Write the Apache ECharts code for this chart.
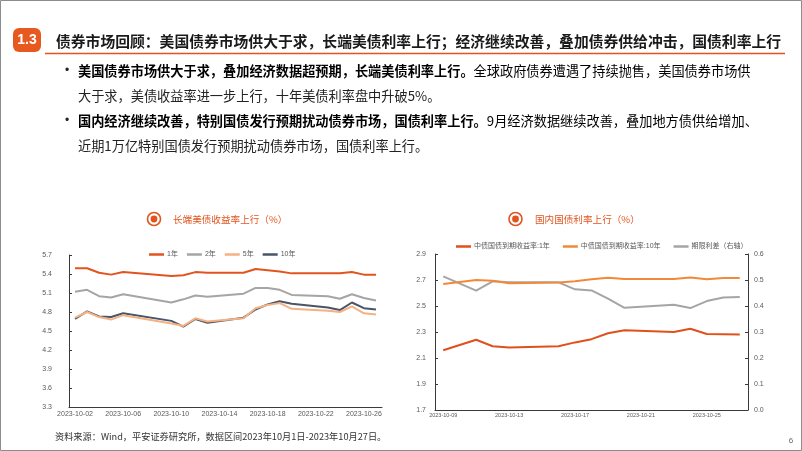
<!DOCTYPE html>
<html><head><meta charset="utf-8">
<script src="https://cdn.jsdelivr.net/npm/echarts@6/dist/echarts.min.js"></script>
<style>html,body{margin:0;padding:0;background:#fff;}#c{width:802px;height:451px;}</style>
</head><body><div id="c"></div>
<script>
// ---------- data: US treasury yields (left chart) ----------
const usDates = ['2023-10-02','2023-10-03','2023-10-04','2023-10-05','2023-10-06','2023-10-07','2023-10-08','2023-10-09','2023-10-10','2023-10-11','2023-10-12','2023-10-13','2023-10-14','2023-10-15','2023-10-16','2023-10-17','2023-10-18','2023-10-19','2023-10-20','2023-10-21','2023-10-22','2023-10-23','2023-10-24','2023-10-25','2023-10-26','2023-10-27'];
const usNames = ['1年','2年','5年','10年'];
const us1y  = [5.49,5.49,5.42,5.39,5.43,null,null,null,5.37,5.38,5.43,5.42,null,null,5.42,5.48,5.46,5.44,5.41,null,null,5.41,5.41,5.43,5.39,5.39];
const us2y  = [5.12,5.15,5.05,5.03,5.08,null,null,null,4.95,5.00,5.06,5.04,null,null,5.09,5.18,5.18,5.15,5.07,null,null,5.05,5.01,5.08,5.02,4.98];
const us5y  = [4.71,4.80,4.72,4.68,4.75,null,null,null,4.62,4.58,4.70,4.65,null,null,4.70,4.86,4.91,4.94,4.85,null,null,4.82,4.80,4.89,4.78,4.76];
const us10y = [4.69,4.81,4.73,4.72,4.78,null,null,null,4.66,4.57,4.69,4.63,null,null,4.71,4.84,4.92,4.97,4.93,null,null,4.87,4.83,4.95,4.86,4.84];
const usYMin = 3.3, usYMax = 5.7, usYStep = 0.3;

// ---------- data: China government bond yields (right chart) ----------
const cnDates = ['2023-10-09','2023-10-10','2023-10-11','2023-10-12','2023-10-13','2023-10-14','2023-10-15','2023-10-16','2023-10-17','2023-10-18','2023-10-19','2023-10-20','2023-10-21','2023-10-22','2023-10-23','2023-10-24','2023-10-25','2023-10-26','2023-10-27'];
const cnNames = ['中债国债到期收益率:1年','中债国债到期收益率:10年','期限利差（右轴）'];
const cn1y    = [2.16,null,2.24,2.19,2.18,null,null,2.19,2.22,2.245,2.29,2.313,null,null,2.30,2.325,2.285,2.283,2.28];
const cn10y   = [2.67,null,2.70,2.695,2.675,null,null,2.68,2.69,2.705,2.718,2.708,null,null,2.708,2.72,2.705,2.715,2.715];
const cnSpread= [0.514,null,0.459,0.495,0.491,null,null,0.491,0.464,0.46,0.428,0.393,null,null,0.405,0.392,0.419,0.433,0.435];
const cnLeftTicks  = [1.7,1.9,2.1,2.3,2.5,2.7,2.9];
const cnRightMin = 0, cnRightMax = 0.6, cnRightStep = 0.1;

// ---------- texts ----------
const headBadge = '1.3';
const headTitle = '债券市场回顾：美国债券市场供大于求，长端美债利率上行；经济继续改善，叠加债券供给冲击，国债利率上行';
const bullet1Bold = '美国债券市场供大于求，叠加经济数据超预期，长端美债利率上行。';
const bullet1Rest = '全球政府债券遭遇了持续抛售，美国债券市场供';
const bullet1Line2 = '大于求，美债收益率进一步上行，十年美债利率盘中升破5%。';
const bullet2Bold = '国内经济继续改善，特别国债发行预期扰动债券市场，国债利率上行。';
const bullet2Rest = '9月经济数据继续改善，叠加地方债供给增加、';
const bullet2Line2 = '近期1万亿特别国债发行预期扰动债券市场，国债利率上行。';
const leftTitle = '长端美债收益率上行（%）';
const rightTitle = '国内国债利率上行（%）';
const sourceText = '资料来源：Wind，平安证券研究所，数据区间2023年10月1日-2023年10月27日。';
const pageNo = '6';

const FONT = "'Liberation Sans','Noto Sans CJK SC',sans-serif";
const CJK = "'Noto Sans CJK SC','Liberation Sans',sans-serif";
const ORANGE = '#E2541F';
const axisColor = '#3a3a3a';
const labelColor = '#595959';

const chart = echarts.init(document.getElementById('c'), null, {renderer:'canvas'});

function titleIcon(cx, cy) {
  return [
    {type:'circle', shape:{cx:cx, cy:cy, r:6.5}, style:{fill:'#fff', stroke:ORANGE, lineWidth:1.6}},
    {type:'circle', shape:{cx:cx, cy:cy, r:3.4}, style:{fill:ORANGE}}
  ];
}

const graphics = [
  {type:'rect', shape:{x:0.5, y:0.5, width:801, height:450}, style:{fill:'none', stroke:'#8c8c8c', lineWidth:1}, z:100},
  {type:'rect', shape:{x:13, y:28, width:28, height:24, r:6}, style:{fill:'#E8591F'}},
  {type:'text', x:27, y:40, style:{text:headBadge, fill:'#fff', font:"bold 14px "+FONT, align:'center', verticalAlign:'middle'}},
  {type:'text', x:56, y:41, style:{text:headTitle, fill:'#1a1a1a', font:"bold 14.8px "+CJK, verticalAlign:'middle'}},
  {type:'line', shape:{x1:45, y1:53.5, x2:785, y2:53.5}, style:{stroke:ORANGE, lineWidth:1.5}},
  // bullets
  {type:'text', x:67, y:71, style:{text:'•', fill:'#222', font:"12px "+FONT, align:'center', verticalAlign:'middle'}},
  {type:'text', x:78, y:71, style:{text:'{b|'+bullet1Bold+'}{n|'+bullet1Rest+'}', verticalAlign:'middle',
     rich:{b:{fontFamily:CJK, fontSize:13.2, fontWeight:'bold', color:'#111'}, n:{fontFamily:CJK, fontSize:13.2, color:'#222'}}}},
  {type:'text', x:78, y:96, style:{text:bullet1Line2, fill:'#222', font:"13.2px "+CJK, verticalAlign:'middle'}},
  {type:'text', x:67, y:121, style:{text:'•', fill:'#222', font:"12px "+FONT, align:'center', verticalAlign:'middle'}},
  {type:'text', x:78, y:121, style:{text:'{b|'+bullet2Bold+'}{n|'+bullet2Rest+'}', verticalAlign:'middle',
     rich:{b:{fontFamily:CJK, fontSize:13.2, fontWeight:'bold', color:'#111'}, n:{fontFamily:CJK, fontSize:13.2, color:'#222'}}}},
  {type:'text', x:78, y:146, style:{text:bullet2Line2, fill:'#222', font:"13.2px "+CJK, verticalAlign:'middle'}},
  // chart titles
  ...titleIcon(154, 219),
  {type:'text', x:173, y:219.5, style:{text:leftTitle, fill:ORANGE, font:"9.6px "+CJK, verticalAlign:'middle'}},
  ...titleIcon(515.5, 219),
  {type:'text', x:535, y:219.5, style:{text:rightTitle, fill:ORANGE, font:"9.6px "+CJK, verticalAlign:'middle'}},
  // source & page
  {type:'text', x:55, y:437, style:{text:sourceText, fill:'#333', font:"9.2px "+CJK, verticalAlign:'middle'}},
  {type:'text', x:791, y:441, style:{text:pageNo, fill:'#666', font:"8px "+FONT, align:'center', verticalAlign:'middle'}}
];

function lineSeries(name, data, color, xIdx, yIdx, z) {
  return {type:'line', name:name, data:data, xAxisIndex:xIdx, yAxisIndex:yIdx, connectNulls:true,
    showSymbol:false, symbol:'none', smooth:false, z:z||2, lineStyle:{color:color, width:2}, itemStyle:{color:color}};
}

const option = {
  animation:false,
  backgroundColor:'#fff',
  textStyle:{fontFamily:FONT},
  graphic:graphics,
  legend:[
    {data:usNames, left:144, top:246, icon:'rect', itemWidth:15, itemHeight:2.5, itemGap:9,
     textStyle:{fontSize:7, color:labelColor, fontFamily:FONT, padding:[0,0,0,-2]}},
    {data:cnNames, left:451, top:238, icon:'rect', itemWidth:15, itemHeight:2.5, itemGap:13,
     textStyle:{fontSize:7, color:labelColor, fontFamily:FONT, padding:[0,0,0,-2]}}
  ],
  grid:[
    {left:69, right:420, top:255, bottom:44},
    {left:435, right:54, top:254, bottom:41}
  ],
  xAxis:[
    {type:'category', gridIndex:0, data:usDates, boundaryGap:true,
     axisLine:{lineStyle:{color:axisColor, width:1}},
     axisTick:{inside:true, length:3, interval:3, lineStyle:{color:axisColor}},
     axisLabel:{interval:3, fontSize:7, color:labelColor, margin:4}},
    {type:'category', gridIndex:1, data:cnDates, boundaryGap:true,
     axisLine:{lineStyle:{color:axisColor, width:1}},
     axisTick:{inside:true, length:3, interval:3, lineStyle:{color:axisColor}},
     axisLabel:{interval:3, fontSize:5.5, color:labelColor, margin:3}}
  ],
  yAxis:[
    {type:'value', gridIndex:0, min:usYMin, max:usYMax, interval:usYStep,
     axisLine:{show:true, lineStyle:{color:axisColor}},
     axisTick:{show:true, inside:true, length:3, lineStyle:{color:axisColor}},
     splitLine:{show:false},
     axisLabel:{fontSize:7, color:labelColor, margin:17, formatter:v=>v.toFixed(1)}},
    {type:'value', gridIndex:1, min:cnLeftTicks[0], max:cnLeftTicks[cnLeftTicks.length-1],
     axisLine:{show:true, lineStyle:{color:axisColor}},
     axisTick:{show:true, inside:true, length:3, customValues:cnLeftTicks, lineStyle:{color:axisColor}},
     splitLine:{show:false},
     axisLabel:{fontSize:7, color:labelColor, margin:9, customValues:cnLeftTicks, formatter:v=>v.toFixed(1)}},
    {type:'value', gridIndex:1, position:'right', min:cnRightMin, max:cnRightMax, interval:cnRightStep,
     axisLine:{show:true, lineStyle:{color:axisColor}},
     axisTick:{show:true, inside:true, length:3, lineStyle:{color:axisColor}},
     splitLine:{show:false},
     axisLabel:{fontSize:7, color:labelColor, margin:6, formatter:v=>v.toFixed(1)}}
  ],
  series:[
    lineSeries(usNames[0], us1y, '#E2541F', 0, 0, 5),
    lineSeries(usNames[1], us2y, '#A5A5A5', 0, 0, 4),
    lineSeries(usNames[2], us5y, '#F4B183', 0, 0, 3),
    lineSeries(usNames[3], us10y, '#4A5568', 0, 0, 2),
    lineSeries(cnNames[0], cn1y, '#E0501A', 1, 1, 4),
    lineSeries(cnNames[1], cn10y, '#F08A3A', 1, 1, 3),
    lineSeries(cnNames[2], cnSpread, '#A5A5A5', 1, 2, 2)
  ]
};
chart.setOption(option);
</script>
</body></html>
